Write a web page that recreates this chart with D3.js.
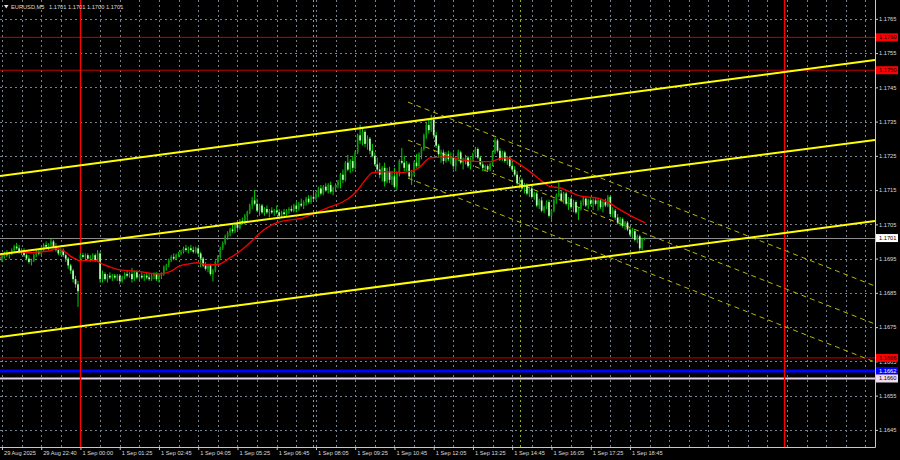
<!DOCTYPE html>
<html><head><meta charset="utf-8">
<script src="https://cdn.jsdelivr.net/npm/d3@7"></script>
<style>html,body{margin:0;padding:0;background:#000;}svg{display:block;}</style>
</head><body>
<svg id="c" width="900" height="460"></svg>
<script>
const symbolTitle = "EURUSD,M5";
const firstBarOffset = -33; // bar number of first candle, counted from the 1 Sep session start
const opens = [
1.16955,1.16945,1.16955,1.16965,1.16960,1.16968,1.16975,1.16985,1.16980,1.16970,
1.16975,1.16960,1.16950,1.16940,1.16945,1.16960,1.16970,1.16965,1.16980,1.16990,
1.16985,1.16990,1.17000,1.16985,1.16975,1.16965,1.16975,1.16960,1.16950,1.16930,
1.16915,1.16890,1.16875,1.16950,1.16960,1.16955,1.16960,1.16950,1.16955,1.16960,
1.16945,1.16965,1.16890,1.16905,1.16890,1.16900,1.16895,1.16900,1.16895,1.16900,
1.16885,1.16895,1.16905,1.16900,1.16905,1.16890,1.16910,1.16895,1.16900,1.16895,
1.16900,1.16895,1.16890,1.16900,1.16905,1.16890,1.16900,1.16905,1.16925,1.16930,
1.16945,1.16955,1.16950,1.16960,1.16965,1.16970,1.16980,1.16975,1.16980,1.16975,
1.16970,1.16980,1.16965,1.16950,1.16930,1.16920,1.16930,1.16905,1.16915,1.16940,
1.16955,1.16980,1.16995,1.17015,1.17025,1.17035,1.17030,1.17050,1.17040,1.17060,
1.17055,1.17075,1.17085,1.17105,1.17120,1.17110,1.17090,1.17105,1.17085,1.17095,
1.17085,1.17090,1.17085,1.17090,1.17085,1.17075,1.17085,1.17080,1.17090,1.17095,
1.17090,1.17105,1.17095,1.17110,1.17105,1.17115,1.17125,1.17115,1.17130,1.17125,
1.17140,1.17155,1.17140,1.17160,1.17150,1.17165,1.17145,1.17155,1.17165,1.17175,
1.17195,1.17180,1.17230,1.17210,1.17235,1.17215,1.17260,1.17310,1.17295,1.17320,
1.17285,1.17300,1.17265,1.17250,1.17225,1.17210,1.17195,1.17215,1.17175,1.17205,
1.17180,1.17190,1.17160,1.17200,1.17235,1.17230,1.17215,1.17225,1.17190,1.17200,
1.17230,1.17220,1.17255,1.17270,1.17310,1.17340,1.17325,1.17355,1.17310,1.17280,
1.17255,1.17260,1.17235,1.17255,1.17240,1.17245,1.17220,1.17240,1.17260,1.17230,
1.17235,1.17245,1.17220,1.17240,1.17255,1.17270,1.17245,1.17225,1.17215,1.17220,
1.17210,1.17225,1.17260,1.17295,1.17265,1.17240,1.17260,1.17235,1.17245,1.17220,
1.17210,1.17195,1.17170,1.17180,1.17155,1.17165,1.17140,1.17155,1.17130,1.17140,
1.17105,1.17120,1.17090,1.17100,1.17115,1.17075,1.17090,1.17120,1.17135,1.17140,
1.17120,1.17140,1.17110,1.17125,1.17100,1.17115,1.17085,1.17095,1.17115,1.17125,
1.17105,1.17120,1.17110,1.17120,1.17110,1.17120,1.17100,1.17115,1.17105,1.17130,
1.17080,1.17090,1.17070,1.17055,1.17065,1.17045,1.17055,1.17035,1.17020,1.17030,
1.17005,1.17015,1.16980,1.17008];
const highs = [
1.16965,1.16960,1.16970,1.16975,1.16970,1.16980,1.16990,1.16996,1.16990,1.16980,
1.16980,1.16965,1.16960,1.16950,1.16965,1.16975,1.16976,1.16985,1.16995,1.17000,
1.16995,1.17010,1.17005,1.16995,1.16980,1.16980,1.16980,1.16965,1.16955,1.16935,
1.16920,1.16900,1.16885,1.16965,1.16967,1.16965,1.16965,1.16960,1.16965,1.16965,
1.16975,1.16970,1.16915,1.16910,1.16905,1.16910,1.16905,1.16905,1.16905,1.16905,
1.16900,1.16910,1.16915,1.16910,1.16923,1.16915,1.16915,1.16905,1.16910,1.16905,
1.16910,1.16905,1.16905,1.16910,1.16910,1.16905,1.16910,1.16930,1.16935,1.16950,
1.16960,1.16965,1.16965,1.16970,1.16975,1.16985,1.16990,1.16985,1.16990,1.16985,
1.16985,1.16985,1.16970,1.16955,1.16940,1.16935,1.16935,1.16920,1.16945,1.16960,
1.16985,1.17000,1.17020,1.17030,1.17040,1.17050,1.17055,1.17060,1.17065,1.17070,
1.17080,1.17090,1.17110,1.17130,1.17150,1.17125,1.17110,1.17110,1.17100,1.17105,
1.17095,1.17100,1.17095,1.17105,1.17095,1.17090,1.17095,1.17095,1.17100,1.17105,
1.17110,1.17115,1.17115,1.17125,1.17120,1.17130,1.17135,1.17135,1.17145,1.17145,
1.17160,1.17165,1.17165,1.17170,1.17170,1.17175,1.17160,1.17170,1.17180,1.17200,
1.17210,1.17235,1.17253,1.17240,1.17250,1.17265,1.17315,1.17341,1.17330,1.17325,
1.17310,1.17305,1.17285,1.17260,1.17245,1.17230,1.17220,1.17230,1.17215,1.17218,
1.17205,1.17215,1.17205,1.17240,1.17273,1.17250,1.17235,1.17230,1.17209,1.17235,
1.17255,1.17260,1.17276,1.17315,1.17346,1.17360,1.17370,1.17365,1.17320,1.17285,
1.17268,1.17268,1.17262,1.17265,1.17260,1.17260,1.17245,1.17268,1.17265,1.17245,
1.17253,1.17250,1.17245,1.17260,1.17276,1.17275,1.17250,1.17235,1.17224,1.17225,
1.17230,1.17265,1.17303,1.17300,1.17273,1.17265,1.17265,1.17250,1.17250,1.17238,
1.17220,1.17205,1.17189,1.17185,1.17171,1.17170,1.17160,1.17165,1.17145,1.17145,
1.17125,1.17130,1.17105,1.17120,1.17122,1.17095,1.17125,1.17140,1.17171,1.17150,
1.17145,1.17145,1.17130,1.17130,1.17122,1.17120,1.17100,1.17120,1.17130,1.17131,
1.17125,1.17130,1.17125,1.17130,1.17125,1.17125,1.17120,1.17125,1.17136,1.17135,
1.17100,1.17095,1.17080,1.17072,1.17070,1.17060,1.17060,1.17043,1.17040,1.17035,
1.17020,1.17020,1.17010,1.17012];
const lows = [
1.16940,1.16940,1.16950,1.16955,1.16950,1.16960,1.16970,1.16975,1.16965,1.16960,
1.16955,1.16945,1.16935,1.16930,1.16940,1.16955,1.16960,1.16960,1.16970,1.16980,
1.16975,1.16985,1.16980,1.16970,1.16960,1.16960,1.16955,1.16940,1.16920,1.16905,
1.16880,1.16865,1.16809,1.16945,1.16950,1.16945,1.16945,1.16940,1.16945,1.16940,
1.16940,1.16880,1.16880,1.16885,1.16880,1.16890,1.16885,1.16890,1.16885,1.16875,
1.16880,1.16890,1.16895,1.16895,1.16880,1.16885,1.16890,1.16885,1.16890,1.16885,
1.16890,1.16885,1.16885,1.16890,1.16885,1.16880,1.16890,1.16900,1.16915,1.16925,
1.16940,1.16945,1.16945,1.16955,1.16960,1.16965,1.16970,1.16965,1.16970,1.16965,
1.16965,1.16960,1.16925,1.16925,1.16915,1.16910,1.16900,1.16883,1.16910,1.16935,
1.16950,1.16975,1.16990,1.17005,1.17015,1.17025,1.17025,1.17030,1.17035,1.17050,
1.17050,1.17060,1.17080,1.17095,1.17105,1.17085,1.17075,1.17080,1.17075,1.17080,
1.17070,1.17080,1.17075,1.17080,1.17065,1.17070,1.17075,1.17075,1.17080,1.17085,
1.17085,1.17085,1.17090,1.17100,1.17095,1.17105,1.17110,1.17110,1.17120,1.17120,
1.17130,1.17135,1.17135,1.17145,1.17140,1.17140,1.17135,1.17145,1.17155,1.17155,
1.17170,1.17175,1.17205,1.17200,1.17205,1.17210,1.17255,1.17285,1.17280,1.17275,
1.17268,1.17255,1.17245,1.17220,1.17205,1.17185,1.17175,1.17160,1.17170,1.17170,
1.17165,1.17155,1.17150,1.17190,1.17225,1.17205,1.17205,1.17185,1.17165,1.17190,
1.17215,1.17215,1.17240,1.17265,1.17300,1.17315,1.17320,1.17300,1.17273,1.17245,
1.17230,1.17225,1.17230,1.17235,1.17225,1.17210,1.17205,1.17235,1.17225,1.17210,
1.17225,1.17215,1.17210,1.17235,1.17245,1.17240,1.17220,1.17205,1.17205,1.17205,
1.17205,1.17220,1.17255,1.17260,1.17235,1.17235,1.17230,1.17224,1.17215,1.17205,
1.17190,1.17165,1.17155,1.17150,1.17140,1.17135,1.17130,1.17125,1.17122,1.17100,
1.17095,1.17085,1.17083,1.17095,1.17070,1.17063,1.17085,1.17110,1.17130,1.17115,
1.17110,1.17105,1.17092,1.17095,1.17085,1.17080,1.17063,1.17090,1.17105,1.17100,
1.17095,1.17105,1.17092,1.17105,1.17090,1.17095,1.17085,1.17100,1.17100,1.17075,
1.17070,1.17063,1.17050,1.17045,1.17040,1.17034,1.17030,1.17015,1.17010,1.17000,
1.16995,1.16973,1.16975,1.17003];
const closes = [
1.16945,1.16955,1.16965,1.16960,1.16968,1.16975,1.16985,1.16980,1.16970,1.16975,
1.16960,1.16950,1.16940,1.16945,1.16960,1.16970,1.16965,1.16980,1.16990,1.16985,
1.16990,1.17000,1.16985,1.16975,1.16965,1.16975,1.16960,1.16950,1.16930,1.16915,
1.16890,1.16875,1.16855,1.16960,1.16955,1.16960,1.16950,1.16955,1.16960,1.16945,
1.16965,1.16890,1.16905,1.16890,1.16900,1.16895,1.16900,1.16895,1.16900,1.16885,
1.16895,1.16905,1.16900,1.16905,1.16890,1.16910,1.16895,1.16900,1.16895,1.16900,
1.16895,1.16890,1.16900,1.16905,1.16890,1.16900,1.16905,1.16925,1.16930,1.16945,
1.16955,1.16950,1.16960,1.16965,1.16970,1.16980,1.16975,1.16980,1.16975,1.16970,
1.16980,1.16965,1.16950,1.16930,1.16920,1.16930,1.16905,1.16915,1.16940,1.16955,
1.16980,1.16995,1.17015,1.17025,1.17035,1.17030,1.17050,1.17040,1.17060,1.17055,
1.17075,1.17085,1.17105,1.17120,1.17110,1.17090,1.17105,1.17085,1.17095,1.17085,
1.17090,1.17085,1.17090,1.17085,1.17075,1.17085,1.17080,1.17090,1.17095,1.17090,
1.17105,1.17095,1.17110,1.17105,1.17115,1.17125,1.17115,1.17130,1.17125,1.17140,
1.17155,1.17140,1.17160,1.17150,1.17165,1.17145,1.17155,1.17165,1.17175,1.17195,
1.17180,1.17230,1.17210,1.17235,1.17215,1.17260,1.17310,1.17295,1.17320,1.17285,
1.17300,1.17265,1.17250,1.17225,1.17210,1.17195,1.17215,1.17175,1.17205,1.17180,
1.17190,1.17160,1.17200,1.17235,1.17230,1.17215,1.17225,1.17190,1.17200,1.17230,
1.17220,1.17255,1.17270,1.17310,1.17340,1.17325,1.17355,1.17310,1.17280,1.17255,
1.17260,1.17235,1.17255,1.17240,1.17245,1.17220,1.17240,1.17260,1.17230,1.17235,
1.17245,1.17220,1.17240,1.17255,1.17270,1.17245,1.17225,1.17215,1.17220,1.17210,
1.17225,1.17260,1.17295,1.17265,1.17240,1.17260,1.17235,1.17245,1.17220,1.17210,
1.17195,1.17170,1.17180,1.17155,1.17165,1.17140,1.17155,1.17130,1.17140,1.17105,
1.17120,1.17090,1.17100,1.17115,1.17075,1.17090,1.17120,1.17135,1.17140,1.17120,
1.17140,1.17110,1.17125,1.17100,1.17115,1.17085,1.17095,1.17115,1.17125,1.17105,
1.17120,1.17110,1.17120,1.17110,1.17120,1.17100,1.17115,1.17105,1.17130,1.17080,
1.17090,1.17070,1.17055,1.17065,1.17045,1.17055,1.17035,1.17020,1.17030,1.17005,
1.17015,1.16980,1.17008,1.17010];

// moving average (red), read at sample bars
const maBars = [-32.8,-28.7,-24.7,-20.6,-16.5,-12.4,-9.6,-6.3,-4.3,-2.2,-0.2,6.7,7.9,12.0,16.1,24.3,29.6,33.2,36.5,40.6,44.6,47.5,51.6,55.6,60.9,65.8,69.1,73.2,80.1,90.7,101.7,107.0,111.1,113.1,115.2,119.2,124.9,130.2,135.5,138.4,142.5,150.6,154.7,162.9,166.9,171.0,173.9,177.9,183.2,188.5,191.4,195.4,199.5,203.6,211.7,214.6,219.9,225.2,230.1];
const maValues = [1.16958,1.16967,1.16970,1.16967,1.16970,1.16973,1.16979,1.16970,1.16958,1.16950,1.16944,1.16944,1.16938,1.16926,1.16917,1.16912,1.16906,1.16906,1.16912,1.16929,1.16935,1.16938,1.16932,1.16932,1.16952,1.16976,1.16996,1.17025,1.17055,1.17069,1.17101,1.17116,1.17136,1.17151,1.17171,1.17201,1.17204,1.17201,1.17206,1.17218,1.17244,1.17247,1.17239,1.17233,1.17233,1.17242,1.17244,1.17230,1.17204,1.17174,1.17160,1.17157,1.17145,1.17133,1.17125,1.17116,1.17093,1.17072,1.17055];

const priceTicks = [1.1645,1.1655,1.1665,1.1675,1.1685,1.1695,1.1705,1.1715,1.1725,1.1735,1.1745,1.1755,1.1765];
const timeTickBars = [-32,-16,0,16,32,48,64,80,96,112,128,144,160,176,192,208,224];
const timeTickLabels = ["29 Aug 2025","29 Aug 22:40","1 Sep 00:00","1 Sep 01:25","1 Sep 02:45","1 Sep 04:05","1 Sep 05:25","1 Sep 06:45","1 Sep 08:05","1 Sep 09:25","1 Sep 10:45","1 Sep 12:05","1 Sep 13:25","1 Sep 14:45","1 Sep 16:05","1 Sep 17:25","1 Sep 18:45"];
const gridStepBars = 8;
const dayLineBars = [0, 287];
const sessionLineBars = [95, 179];

const levelValues = [1.17596, 1.17500, 1.16660, 1.16622, 1.16600];
const levelLabels = ["1.1760", "1.1750", "1.1666", "1.1662", "1.1660"];
const levelKinds = ["red", "red", "red", "blue", "pink"];

const channelBars = [-32.8, 323.9];
const channelTop = [1.17191, 1.17530];
const channelMid = [1.16963, 1.17296];
const channelLow = [1.16721, 1.17060];
const dashBars = [133.5, 323.9];
const dashTop = [1.17407, 1.16870];
const dashMid = [1.17296, 1.16759];
const dashLow = [1.17185, 1.16648];

// ---------- drawing ----------
const W = 900, H = 460, PR = 875, PB = 447;
const svg = d3.select("#c");
svg.append("rect").attr("width", W).attr("height", H).attr("fill", "#000");
const x = d3.scaleLinear().domain([-32.8, 323.9]).range([0, PR]);
const y = d3.scaleLinear().domain([1.164, 1.17705]).range([PB, 0]);
const fmt = d3.format(".4f");
const FONT = "Liberation Sans, Arial, sans-serif";
const FS = 5.7;

svg.append("clipPath").attr("id", "plot").append("rect").attr("x", 0).attr("y", 0).attr("width", PR).attr("height", PB);
const g = svg.append("g").attr("clip-path", "url(#plot)");

// grid
const gridColor = "#75808c";
g.selectAll(".hg").data(priceTicks).join("line")
  .attr("x1", 0).attr("x2", PR).attr("y1", d => Math.round(y(d)) + 0.5).attr("y2", d => Math.round(y(d)) + 0.5)
  .attr("stroke", gridColor).attr("stroke-width", 1).attr("stroke-dasharray", "2,3");
const gridBars = d3.range(timeTickBars[0], x.domain()[1], gridStepBars);
g.selectAll(".vg").data(gridBars).join("line")
  .attr("x1", d => Math.round(x(d)) + 0.5).attr("x2", d => Math.round(x(d)) + 0.5).attr("y1", 0).attr("y2", PB)
  .attr("stroke", gridColor).attr("stroke-width", 1).attr("stroke-dasharray", "2,3");

// session markers
g.selectAll(".sl").data(sessionLineBars).join("line")
  .attr("x1", d => Math.round(x(d)) + 0.5).attr("x2", d => Math.round(x(d)) + 0.5).attr("y1", 0).attr("y2", PB)
  .attr("stroke", "#8fb020").attr("stroke-width", 1).attr("stroke-dasharray", "2,3");

// horizontal levels
const levelColor = {red: "#c80000", blue: "#0000ff", pink: "#e6d2e6"};
const levelWidth = {red: 1, blue: 3, pink: 2};
g.selectAll(".lv").data(levelValues).join("line")
  .attr("x1", 0).attr("x2", PR).attr("y1", d => y(d)).attr("y2", d => y(d))
  .attr("stroke", (d, i) => levelColor[levelKinds[i]]).attr("stroke-width", (d, i) => levelWidth[levelKinds[i]]);

// current price line
const lastClose = closes[closes.length - 1];
g.append("line").attr("x1", 0).attr("x2", PR).attr("y1", Math.round(y(lastClose)) + 0.5).attr("y2", Math.round(y(lastClose)) + 0.5)
  .attr("stroke", "#8a8a8a").attr("stroke-width", 1);

// day separators (red vertical)
g.selectAll(".dl").data(dayLineBars).join("line")
  .attr("x1", d => Math.round(x(d)) + 0.5).attr("x2", d => Math.round(x(d)) + 0.5).attr("y1", 0).attr("y2", PB)
  .attr("stroke", "#ff0000").attr("stroke-width", 1.3);

// dashed descending channel
const line2 = (bars, vals) => d3.line().x(d => x(d[0])).y(d => y(d[1]))(bars.map((b, i) => [b, vals[i]]));
[dashTop, dashMid, dashLow].forEach(v => {
  g.append("path").attr("d", line2(dashBars, v)).attr("fill", "none")
    .attr("stroke", "#b8b800").attr("stroke-width", 1).attr("stroke-dasharray", "5,4");
});

// candles
const candles = opens.map((o, i) => ({k: i + firstBarOffset, o, h: highs[i], l: lows[i], c: closes[i]}));
const cg = g.append("g");
cg.selectAll(".wick").data(candles).join("line")
  .attr("x1", d => x(d.k)).attr("x2", d => x(d.k)).attr("y1", d => y(d.h)).attr("y2", d => y(d.l))
  .attr("stroke", "#00e600").attr("stroke-width", 0.9);
cg.selectAll(".body").data(candles).join("rect")
  .attr("x", d => x(d.k) - 0.85).attr("width", 1.7)
  .attr("y", d => y(Math.max(d.o, d.c)))
  .attr("height", d => Math.max(0.8, Math.abs(y(d.o) - y(d.c))))
  .attr("fill", d => d.c > d.o ? "#0c960c" : (d.c < d.o ? "#b8ffb8" : "#00e600"));

// moving average
g.append("path")
  .attr("d", d3.line().curve(d3.curveMonotoneX).x(d => x(d[0])).y(d => y(d[1]))(maBars.map((b, i) => [b, maValues[i]])))
  .attr("fill", "none").attr("stroke", "#f00000").attr("stroke-width", 1.4);

// main rising channel
[channelTop, channelMid, channelLow].forEach(v => {
  g.append("path").attr("d", line2(channelBars, v)).attr("fill", "none")
    .attr("stroke", "#ffff00").attr("stroke-width", 2);
});

// frame
svg.append("line").attr("x1", PR + 0.5).attr("x2", PR + 0.5).attr("y1", 0).attr("y2", PB + 0.5).attr("stroke", "#c8c8c8");
svg.append("line").attr("x1", 0).attr("x2", PR + 0.5).attr("y1", PB + 0.5).attr("y2", PB + 0.5).attr("stroke", "#c8c8c8");

// price axis
const yAxis = d3.axisRight(y).tickValues(priceTicks).tickFormat(fmt).tickSize(3).tickPadding(1);
const ya = svg.append("g").attr("transform", `translate(${PR},0)`).call(yAxis);
ya.select(".domain").remove();
ya.selectAll("line").attr("stroke", "#c8c8c8");
ya.selectAll("text").attr("fill", "#dcdcdc").attr("font-family", FONT).attr("font-size", FS);

// time axis
const xAxis = d3.axisBottom(x).tickValues(timeTickBars).tickFormat((d, i) => timeTickLabels[i]).tickSize(3).tickPadding(0);
const xa = svg.append("g").attr("transform", `translate(0,${PB})`).call(xAxis);
xa.select(".domain").remove();
xa.selectAll("line").attr("stroke", "#c8c8c8");
xa.selectAll("text").attr("fill", "#dcdcdc").attr("font-family", FONT).attr("font-size", FS)
  .attr("text-anchor", "start").attr("dx", 1.5).attr("dy", "0.9em");

// level labels on the axis
const boxFill = {red: "#ff0000", blue: "#0000ff", pink: "#f0dcf0"};
const boxText = {red: "#000000", blue: "#ffffff", pink: "#000000"};
const lg = svg.append("g");
levelValues.forEach((v, i) => {
  const k = levelKinds[i];
  lg.append("rect").attr("x", PR + 1).attr("y", y(v) - 4).attr("width", 22).attr("height", 8).attr("fill", boxFill[k]);
  lg.append("text").attr("x", PR + 4).attr("y", y(v)).attr("dy", "0.35em").text(levelLabels[i])
    .attr("fill", boxText[k]).attr("font-family", FONT).attr("font-size", FS);
});
lg.append("rect").attr("x", PR + 1).attr("y", y(lastClose) - 4).attr("width", 22).attr("height", 8).attr("fill", "#ffffff");
lg.append("text").attr("x", PR + 4).attr("y", y(lastClose)).attr("dy", "0.35em").text(fmt(lastClose))
  .attr("fill", "#000").attr("font-family", FONT).attr("font-size", FS);

// title
const last = candles[candles.length - 1];
svg.append("path").attr("d", "M4,5 L8.5,5 L6.25,8.5 Z").attr("fill", "#e0e0e0");
svg.append("text").attr("x", 11).attr("y", 7).attr("dy", "0.35em").text(symbolTitle)
  .attr("fill", "#dcdcdc").attr("font-family", FONT).attr("font-size", FS);
svg.append("text").attr("x", 49).attr("y", 7).attr("dy", "0.35em")
  .text([last.o, last.h, last.l, last.c].map(fmt).join(" "))
  .attr("fill", "#dcdcdc").attr("font-family", FONT).attr("font-size", FS);
</script>
</body></html>
